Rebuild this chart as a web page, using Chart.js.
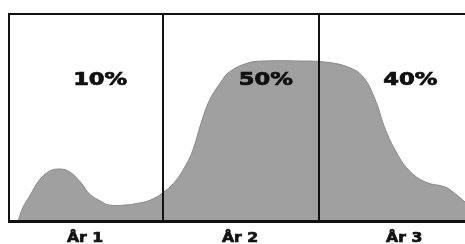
<!DOCTYPE html>
<html>
<head>
<meta charset="utf-8">
<script src="https://cdn.jsdelivr.net/npm/chart.js@4"></script>
<style>
  body { margin: 0; background: #fff; }
  #wrap { width: 465px; height: 244px; }
</style>
</head>
<body>
<div id="wrap"><canvas id="chart" width="465" height="244"></canvas></div>
<script>
// curve: x in years (0..3), y in % of plot height
const curveX = [0.06, 0.09, 0.14, 0.20, 0.27, 0.34, 0.40, 0.47, 0.53, 0.60, 0.66, 0.76, 0.86, 0.93,
                1.01, 1.09, 1.16, 1.21, 1.27, 1.32, 1.39, 1.45, 1.57, 1.68, 1.91,
                2.08, 2.23, 2.33, 2.41, 2.47, 2.54, 2.63, 2.74, 2.87, 2.93, 3.00];
const curveY = [0, 6.3, 12.6, 19.8, 24.2, 25.1, 23.7, 18.8, 13.0, 9.7, 7.7, 7.7, 8.7, 10.1,
                13.5, 18.8, 26.6, 34.3, 48.8, 58.5, 66.7, 72.0, 76.3, 77.3, 77.3,
                76.8, 74.4, 69.6, 58.5, 45.4, 34.3, 24.6, 18.8, 16.4, 13.5, 9.2];

const yearLabels = ['År 1', 'År 2', 'År 3'];
const shareLabels = ['10%', '50%', '40%'];
const dividers = [1.01, 2.04];

// where the texts sit (x in years)
const yearLabelX = [0.50, 1.52, 2.60];
const shareLabelX = [0.60, 1.69, 2.64];

const points = curveX.map((x, i) => ({ x: x, y: curveY[i] }));

function stretchedText(ctx, text, x, y, sx) {
    ctx.save();
    ctx.translate(x, y);
    ctx.scale(sx, 1);
    ctx.fillText(text, 0, 0);
    ctx.strokeText(text, 0, 0);
    ctx.restore();
}

const framePlugin = {
    id: 'frame',
    afterDatasetsDraw(chart) {
        const ctx = chart.ctx;
        const area = chart.chartArea;
        const xs = chart.scales.x;
        ctx.save();
        ctx.strokeStyle = '#111';
        ctx.lineWidth = 2;
        ctx.beginPath();
        ctx.moveTo(area.right, area.top);
        ctx.lineTo(area.left, area.top);
        ctx.lineTo(area.left, area.bottom);
        ctx.stroke();
        ctx.lineWidth = 3;
        ctx.beginPath();
        ctx.moveTo(area.left - 1, area.bottom + 0.5);
        ctx.lineTo(area.right, area.bottom + 0.5);
        ctx.stroke();
        ctx.lineWidth = 2;
        dividers.forEach(d => {
            const px = Math.round(xs.getPixelForValue(d));
            ctx.beginPath();
            ctx.moveTo(px, area.top);
            ctx.lineTo(px, area.bottom);
            ctx.stroke();
        });

        ctx.fillStyle = '#111';
        ctx.strokeStyle = '#111';
        ctx.lineWidth = 0.7;
        ctx.textAlign = 'center';
        ctx.textBaseline = 'alphabetic';
        ctx.font = 'bold 17px "DejaVu Sans"';
        shareLabels.forEach((t, i) => {
            stretchedText(ctx, t, chart.scales.x.getPixelForValue(shareLabelX[i]), 85, 1.33);
        });
        ctx.font = 'bold 14px "DejaVu Sans"';
        yearLabels.forEach((t, i) => {
            stretchedText(ctx, t, xs.getPixelForValue(yearLabelX[i]), 242, 1.12);
        });
        ctx.restore();
    }
};

new Chart(document.getElementById('chart'), {
    type: 'line',
    data: {
        datasets: [{
            data: points,
            fill: 'origin',
            backgroundColor: '#a0a0a0',
            borderColor: '#8a8a8a',
            borderWidth: 1,
            pointRadius: 0,
            tension: 0.4
        }]
    },
    options: {
        responsive: false,
        animation: false,
        layout: { padding: { left: 9, top: 14, right: 0, bottom: 23 } },
        plugins: { legend: { display: false }, tooltip: { enabled: false } },
        scales: {
            x: { type: 'linear', min: 0, max: 3, display: false },
            y: { min: 0, max: 100, display: false }
        }
    },
    plugins: [framePlugin]
});
</script>
</body>
</html>
